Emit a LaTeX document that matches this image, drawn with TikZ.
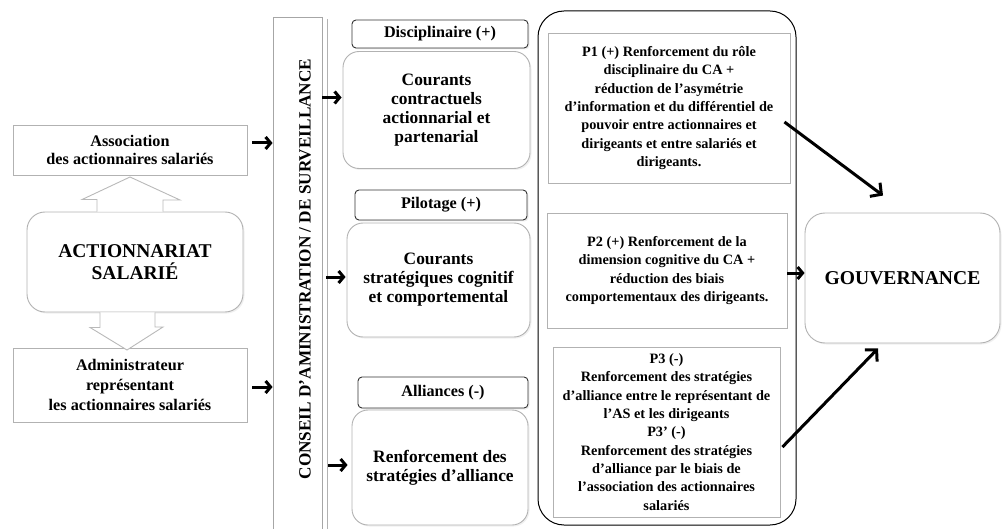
\documentclass[tikz,border=0pt]{standalone}
\usepackage{fontspec}
\setmainfont{Liberation Serif}
\usetikzlibrary{arrows.meta,calc,shadows}
\begin{document}
\begin{tikzpicture}[x=1pt,y=-1pt,
  every node/.style={font=\bfseries, align=center, inner sep=0pt},
  sqbox/.style={draw=gray!60, line width=0.9pt},
  rbox/.style={draw=gray!60, line width=0.9pt, rounded corners=16pt, fill=white,
     drop shadow={opacity=0.12, shadow xshift=1.5pt, shadow yshift=-1.5pt}},
  lbox/.style={draw=black!80, line width=0.9pt, rounded corners=4pt, fill=white,
     drop shadow={opacity=0.15, shadow xshift=1.5pt, shadow yshift=-1.5pt}},
  arr/.style={line width=3pt, -{Straight Barb[length=5pt,width=12pt]}},
  bigarr/.style={line width=3pt, -{Straight Barb[length=8pt,width=17pt]}},
  hollow/.style={draw=gray!55, line width=0.9pt, fill=white}
]
\useasboundingbox (0,0) rectangle (1003,529);

% left column
\node[sqbox, minimum width=234pt, minimum height=50pt, font=\bfseries\fontsize{16.2}{18}\selectfont]
  (assoc) at (130,150) {Association\\des actionnaires salariés};
\node[sqbox, minimum width=234pt, minimum height=74pt, font=\bfseries\fontsize{16.2}{20}\selectfont]
  (admin) at (130,385) {Administrateur\\représentant\\les actionnaires salariés};
\node[rbox, rounded corners=18pt, minimum width=216pt, minimum height=100pt, font=\bfseries\fontsize{19.5}{22}\selectfont]
  (act) at (135,262) {ACTIONNARIAT\\SALARIÉ};

% hollow arrows
\draw[hollow] ($(act.north)+(-38,0)$) -- ++(0,-12) -- ++(-15,0) -- (130,177) -- (180,200) -- ++(-17,0) -- ($(act.north)+(28,0)$);
\draw[hollow] ($(act.south)+(-35,0)$) -- ++(0,15) -- ++(-10,0) -- (127,350) -- (163,327) -- ++(-8,0) -- ($(act.south)+(20,0)$);

% conseil
\node[draw=gray!70, line width=0.9pt, minimum width=49pt, minimum height=515pt] (conseil) at (297.5,274.5) {};
\draw[gray!60, line width=0.7pt] (327,19) -- (327,532);
\node[rotate=90, font=\bfseries\fontsize{17.2}{18}\selectfont] (ctext) at (305,269) {CONSEIL D'AMINISTRATION / DE SURVEILLANCE};

% middle column
\node[lbox, minimum width=176pt, minimum height=28pt, font=\bfseries\fontsize{16.2}{17}\selectfont] (dis) at (440,34) {Disciplinaire (+)};
\node[rbox, minimum width=187pt, minimum height=117pt, font=\bfseries\fontsize{17.4}{19}\selectfont] (cc) at (436.5,110) {Courants\\contractuels\\actionnarial et\\partenarial};
\node[lbox, minimum width=172pt, minimum height=30pt, font=\bfseries\fontsize{16.2}{17}\selectfont] (pil) at (441,205) {Pilotage (+)};
\node[rbox, minimum width=183pt, minimum height=114pt, font=\bfseries\fontsize{17.4}{19}\selectfont] (cs) at (438.5,280) {Courants\\stratégiques cognitif\\et comportemental};
\node[lbox, minimum width=170pt, minimum height=31pt, font=\bfseries\fontsize{16.2}{17}\selectfont] (all) at (443,392.5) {Alliances (-)};
\node[rbox, minimum width=176pt, minimum height=115pt, font=\bfseries\fontsize{17.4}{19}\selectfont] (ren) at (440,467.5) {Renforcement des\\stratégies d’alliance};

% container and propositions
\node[draw=black, line width=1pt, rounded corners=26pt, minimum width=258pt, minimum height=514pt] (cont) at (667,268) {};
\node[sqbox, minimum width=242pt, minimum height=150pt, font=\bfseries\fontsize{14.3}{18.3}\selectfont] (p1) at (669,108)
  {P1 (+) Renforcement du rôle\\disciplinaire du CA +\\réduction de l’asymétrie\\d’information et du différentiel de\\pouvoir entre actionnaires et\\dirigeants et entre salariés et\\dirigeants.};
\node[sqbox, minimum width=240pt, minimum height=115pt, font=\bfseries\fontsize{14.3}{18.3}\selectfont] (p2) at (667,270.5)
  {P2 (+) Renforcement de la\\dimension cognitive du CA +\\réduction des biais\\comportementaux des dirigeants.};
\node[sqbox, minimum width=227pt, minimum height=170pt, font=\bfseries\fontsize{14.3}{18.3}\selectfont] (p3) at (666.5,432)
  {P3 (-)\\Renforcement des stratégies\\d’alliance entre le représentant de\\l’AS et les dirigeants\\P3’ (-)\\Renforcement des stratégies\\d’alliance par le biais de\\l’association des actionnaires\\salariés};

% gouvernance
\node[rbox, rounded corners=20pt, minimum width=195pt, minimum height=130pt, font=\bfseries\fontsize{19.6}{22}\selectfont] (gouv) at (902.5,278) {GOUVERNANCE};

% connectors
\draw[arr] ([shift={(5,-7)}]assoc.east) -- ([shift={(0,-7)}]assoc.east -| conseil.west);
\draw[arr] ([shift={(5,2)}]admin.east) -- ([shift={(0,2)}]admin.east -| conseil.west);
\draw[arr] ([shift={(0,-12.5)}]cc.west -| conseil.east) -- ([shift={(-1,-12.5)}]cc.west);
\draw[arr] ([shift={(4,-3)}]cs.west -| conseil.east) -- ([shift={(-1,-3)}]cs.west);
\draw[arr] ([shift={(6,-2.5)}]ren.west -| conseil.east) -- ([shift={(-4,-2.5)}]ren.west);

\coordinate (g1) at ($(gouv.north)+(-19.5,-17)$);
\coordinate (g3) at ($(gouv.south)+(-24.5,5)$);
\draw[bigarr] ([shift={(-6,14)}]p1.east) -- (g1);
\draw[arr] ([shift={(0,2.5)}]p2.east) -- ([shift={(0,2.5)}]p2.east -| gouv.west);
\draw[bigarr] ([shift={(2,15)}]p3.east) -- (g3);
\end{tikzpicture}
\end{document}
